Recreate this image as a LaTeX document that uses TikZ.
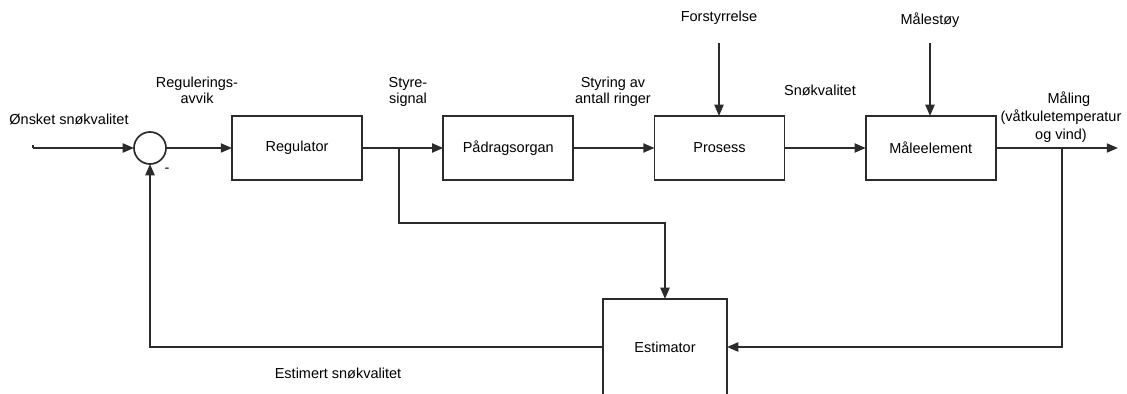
\documentclass[tikz,border=0pt]{standalone}
\usepackage{fontspec}
\setmainfont{Liberation Sans}
\usepackage{tikz}
\usetikzlibrary{ positioning, arrows.meta }
\usepackage{xcolor}
\definecolor{wire}{HTML}{2b2b2b}

\begin{document}
\begin{tikzpicture}[
  x=0.025cm, y=-0.025cm,
  node distance=2.03cm,
  font=\fontsize{10.3}{11.6}\selectfont,
  block/.style={draw=wire, line width=1.2pt, minimum width=3.25cm,
                minimum height=1.6cm, inner sep=0pt, outer sep=0pt},
  sumring/.style={draw=wire, line width=1.2pt, circle, minimum size=0.8cm,
                  inner sep=0pt, outer sep=0pt},
  ar/.style={-{Triangle[length=8pt,width=6.5pt]}, line width=1.2pt, wire},
  ln/.style={line width=1.2pt, wire},
  lbl/.style={align=center, inner sep=0pt},
]
  \useasboundingbox (0,0) rectangle (1127,394);

  \node[sumring] (sum) at (150,148) {};
  \node[block, right=1.65cm of sum] (reg) {Regulator};
  \node[block, right=of reg] (pad) {Pådragsorgan};
  \node[block, right=of pad] (pros) {Prosess};
  \node[block, right=of pros] (male) {Måleelement};
  \node[block, minimum width=3.1cm, minimum height=2.4cm] (est) at (665,347) {Estimator};

  % labels
  \node[lbl] (ref) at (69,119) {Ønsket snøkvalitet};
  \node[lbl] (err) at (197,90) {Regulerings-\\avvik};
  \node[lbl] (minus) at (167,170) {-};
  \node[lbl] (sig) at (408,92) {Styre-\\signal};
  \node[lbl] (ring) at (613,92) {Styring av\\antall ringer};
  \node[lbl] (dlbl) at (719,18) {Forstyrrelse};
  \node[lbl] (snow) at (820,90) {Snøkvalitet};
  \node[lbl] (nlbl) at (930,20) {Målestøy};
  \node[lbl, font=\fontsize{10.3}{13}\selectfont] (meas) at (1061,117)
    {\hspace*{1.1em}Måling\\(våtkuletemperatur\\og vind)};
  \node[lbl] (esnow) at (338,373) {Estimert snøkvalitet};

  % free ends and branch points
  \coordinate (start) at (33,148);
  \coordinate (out) at (1118,148);
  \coordinate (dtop) at (719,43);
  \coordinate (ntop) at (930,43);
  \coordinate (b1) at (399,148);
  \coordinate (b2) at (1062,148);

  \draw[ar] (start) -- (sum);
  \draw[ar] (sum) -- (reg);
  \draw[ar] (reg) -- (pad);
  \draw[ar] (pad) -- (pros);
  \draw[ar] (pros) -- (male);
  \draw[ar] (male) -- (out);
  \draw[ar] (dtop) -- (pros.north -| dtop);
  \draw[ar] (ntop) -- (male.north -| ntop);
  \draw[ar] (b1) -- (399,223) -| (est.north);
  \draw[ar] (b2) |- (est.east);
  \draw[ar] (est.west) -| (sum.south);
  \draw[ln] (start) -- ++(0,-3);
\end{tikzpicture}
\end{document}
